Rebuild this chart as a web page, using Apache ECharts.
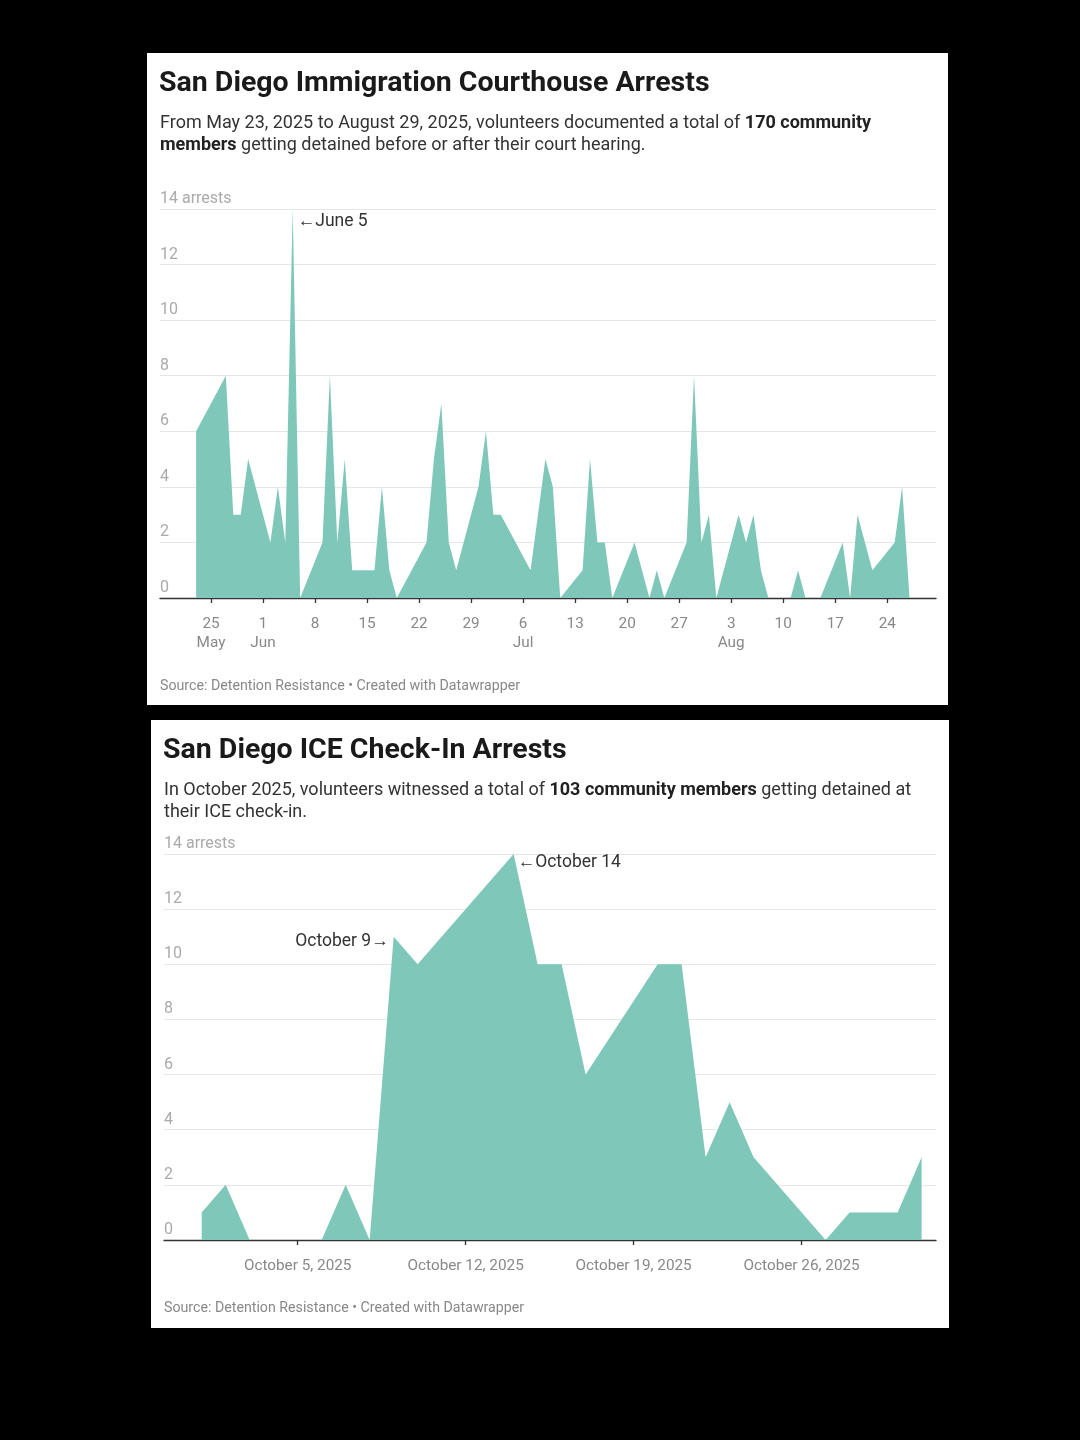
<!DOCTYPE html>
<html>
<head>
<meta charset="utf-8">
<script src="https://cdn.jsdelivr.net/npm/echarts@6/dist/echarts.min.js"></script>
<style>
  html, body { margin: 0; padding: 0; background: #000; }
  #chart { width: 1080px; height: 1440px; }
</style>
</head>
<body>
<div id="chart"></div>
<script>
// ---------- Data: courthouse arrests (May 23 – Aug 29, 2025) ----------
const courtDates = [
  '2025-05-23','2025-05-27','2025-05-28','2025-05-29','2025-05-30',
  '2025-06-02','2025-06-03','2025-06-04','2025-06-05','2025-06-06',
  '2025-06-09','2025-06-10','2025-06-11','2025-06-12','2025-06-13',
  '2025-06-16','2025-06-17','2025-06-18','2025-06-19',
  '2025-06-23','2025-06-24','2025-06-25','2025-06-26','2025-06-27',
  '2025-06-30','2025-07-01','2025-07-02','2025-07-03',
  '2025-07-07','2025-07-08','2025-07-09','2025-07-10','2025-07-11',
  '2025-07-14','2025-07-15','2025-07-16','2025-07-17','2025-07-18',
  '2025-07-21','2025-07-22','2025-07-23','2025-07-24','2025-07-25',
  '2025-07-28','2025-07-29','2025-07-30','2025-07-31','2025-08-01',
  '2025-08-04','2025-08-05','2025-08-06','2025-08-07','2025-08-08',
  '2025-08-11','2025-08-12','2025-08-13','2025-08-14','2025-08-15',
  '2025-08-18','2025-08-19','2025-08-20','2025-08-21','2025-08-22',
  '2025-08-25','2025-08-26','2025-08-27','2025-08-28','2025-08-29'
];
const courtArrests = [
  6, 8, 3, 3, 5,
  2, 4, 2, 14, 0,
  2, 8, 2, 5, 1,
  1, 4, 1, 0,
  2, 5, 7, 2, 1,
  4, 6, 3, 3,
  1, 3, 5, 4, 0,
  1, 5, 2, 2, 0,
  2, 1, 0, 1, 0,
  2, 8, 2, 3, 0,
  3, 2, 3, 1, 0,
  0, 1, 0, 0, 0,
  2, 0, 3, 2, 1,
  2, 4, 0, 0, 0
];
const courtTickDates = ['2025-05-25','2025-06-01','2025-06-08','2025-06-15','2025-06-22','2025-06-29',
  '2025-07-06','2025-07-13','2025-07-20','2025-07-27','2025-08-03','2025-08-10','2025-08-17','2025-08-24'];
const courtTickLabels = ['25\nMay','1\nJun','8','15','22','29','6\nJul','13','20','27','3\nAug','10','17','24'];

// ---------- Data: ICE check-in arrests (October 2025) ----------
const iceDates = [
  '2025-10-01','2025-10-02','2025-10-03',
  '2025-10-06','2025-10-07','2025-10-08','2025-10-09','2025-10-10',
  '2025-10-14','2025-10-15','2025-10-16','2025-10-17',
  '2025-10-20','2025-10-21','2025-10-22','2025-10-23','2025-10-24',
  '2025-10-27','2025-10-28','2025-10-29','2025-10-30','2025-10-31'
];
const iceArrests = [
  1, 2, 0,
  0, 2, 0, 11, 10,
  14, 10, 10, 6,
  10, 10, 3, 5, 3,
  0, 1, 1, 1, 3
];
const iceTickDates = ['2025-10-05','2025-10-12','2025-10-19','2025-10-26'];
const iceTickLabels = ['October 5, 2025','October 12, 2025','October 19, 2025','October 26, 2025'];

const yMax = 14, yStep = 2;

// ---------- helpers: dates -> day offsets from each chart's first date ----------
const DAY = 86400000;
const ts = s => { const [y, m, d] = s.split('-').map(Number); return Date.UTC(y, m - 1, d); };
const dayOf = (s, base) => Math.round((ts(s) - ts(base)) / DAY);
const pairs = (dates, vals) => dates.map((d, i) => [dayOf(d, dates[0]), vals[i]]);

const FONT = 'Roboto, "Noto Sans", sans-serif';
const AREA = '#7fc8b9';

function xAxisCfg(gridIndex, baseDate, tickDates, tickLabels, min, max) {
  const tv = tickDates.map(d => dayOf(d, baseDate));
  return {
    type: 'value', gridIndex, min, max,
    axisLine: { show: true, onZero: false, lineStyle: { color: '#333', width: 1.3 } },
    axisTick: { show: true, customValues: tv, length: 5, lineStyle: { color: '#333', width: 1.3 } },
    axisLabel: {
      customValues: tv, color: '#888', fontSize: 15.3, fontFamily: FONT, margin: 17,
      lineHeight: 19, hideOverlap: false,
      formatter: v => { const i = tv.indexOf(v); return i >= 0 ? tickLabels[i] : ''; }
    },
    splitLine: { show: false }
  };
}
function yAxisCfg(gridIndex) {
  return {
    type: 'value', gridIndex, min: 0, max: yMax, interval: yStep,
    axisLine: { show: false }, axisTick: { show: false },
    axisLabel: {
      inside: true, margin: 0, color: '#aaa', fontSize: 16, fontFamily: FONT,
      verticalAlign: 'bottom', padding: [0, 0, 2, 0],
      formatter: v => v === yMax ? yMax + ' arrests' : String(v)
    },
    splitLine: { show: true, lineStyle: { color: '#e6e6e6', width: 1 } }
  };
}
const annoLabel = { color: '#333', fontSize: 17.5, fontFamily: FONT };
const titleStyle = { fontSize: 28.5, fontWeight: 'bold', color: '#1a1a1a', fontFamily: FONT };
const subStyle = { fontSize: 18, color: '#333', fontWeight: 'normal', fontFamily: FONT, lineHeight: 22,
  rich: { b: { fontSize: 18, fontWeight: 'bold', color: '#222', fontFamily: FONT, lineHeight: 22 } } };
const srcStyle = { fontSize: 14.2, color: '#888', fontWeight: 'normal', fontFamily: FONT };

const option = {
  animation: false,
  backgroundColor: '#000',
  graphic: [
    { type: 'rect', z: -10, shape: { x: 147, y: 53, width: 801, height: 652 }, style: { fill: '#fff' } },
    { type: 'rect', z: -10, shape: { x: 151, y: 720, width: 798, height: 608 }, style: { fill: '#fff' } }
  ],
  title: [
    { text: 'San Diego Immigration Courthouse Arrests', left: 159, top: 69, padding: 0, textStyle: titleStyle },
    { text: 'From May 23, 2025 to August 29, 2025, volunteers documented a total of {b|170 community}\n{b|members} getting detained before or after their court hearing.',
      left: 160, top: 112, padding: 0, textStyle: subStyle },
    { text: 'Source: Detention Resistance • Created with Datawrapper', left: 160, top: 679, padding: 0, textStyle: srcStyle },

    { text: 'San Diego ICE Check-In Arrests', left: 163, top: 736, padding: 0, textStyle: titleStyle },
    { text: 'In October 2025, volunteers witnessed a total of {b|103 community members} getting detained at\ntheir ICE check-in.',
      left: 164, top: 779, padding: 0, textStyle: subStyle },
    { text: 'Source: Detention Resistance • Created with Datawrapper', left: 164, top: 1301, padding: 0, textStyle: srcStyle }
  ],
  grid: [
    { left: 160, right: 144, top: 209, height: 389 },
    { left: 164, right: 144, top: 854, height: 386 }
  ],
  xAxis: [
    xAxisCfg(0, courtDates[0], courtTickDates, courtTickLabels, -4.86, 99.56),
    xAxisCfg(1, iceDates[0], iceTickDates, iceTickLabels, -1.57, 30.6)
  ],
  yAxis: [ yAxisCfg(0), yAxisCfg(1) ],
  series: [
    {
      type: 'line', xAxisIndex: 0, yAxisIndex: 0,
      data: pairs(courtDates, courtArrests),
      showSymbol: false, symbol: 'none',
      lineStyle: { width: 0 },
      areaStyle: { color: AREA, opacity: 1 },
      markPoint: {
        symbol: 'circle', symbolSize: 0, silent: true,
        data: [
          { coord: [dayOf('2025-06-05', courtDates[0]), 14], value: 14,
            label: { show: true, position: 'right', distance: 5, offset: [0, 13], formatter: '←June 5', ...annoLabel } }
        ]
      }
    },
    {
      type: 'line', xAxisIndex: 1, yAxisIndex: 1,
      data: pairs(iceDates, iceArrests),
      showSymbol: false, symbol: 'none',
      lineStyle: { width: 0 },
      areaStyle: { color: AREA, opacity: 1 },
      markPoint: {
        symbol: 'circle', symbolSize: 0, silent: true,
        data: [
          { coord: [dayOf('2025-10-14', iceDates[0]), 14], value: 14,
            label: { show: true, position: 'right', distance: 4, offset: [0, 9], formatter: '←October 14', ...annoLabel } },
          { coord: [dayOf('2025-10-09', iceDates[0]), 11], value: 11,
            label: { show: true, position: 'left', distance: 5, offset: [0, 5], formatter: 'October 9→', ...annoLabel } }
        ]
      }
    }
  ]
};

const chart = echarts.init(document.getElementById('chart'), null, { renderer: 'canvas', width: 1080, height: 1440 });
chart.setOption(option);
</script>
</body>
</html>
